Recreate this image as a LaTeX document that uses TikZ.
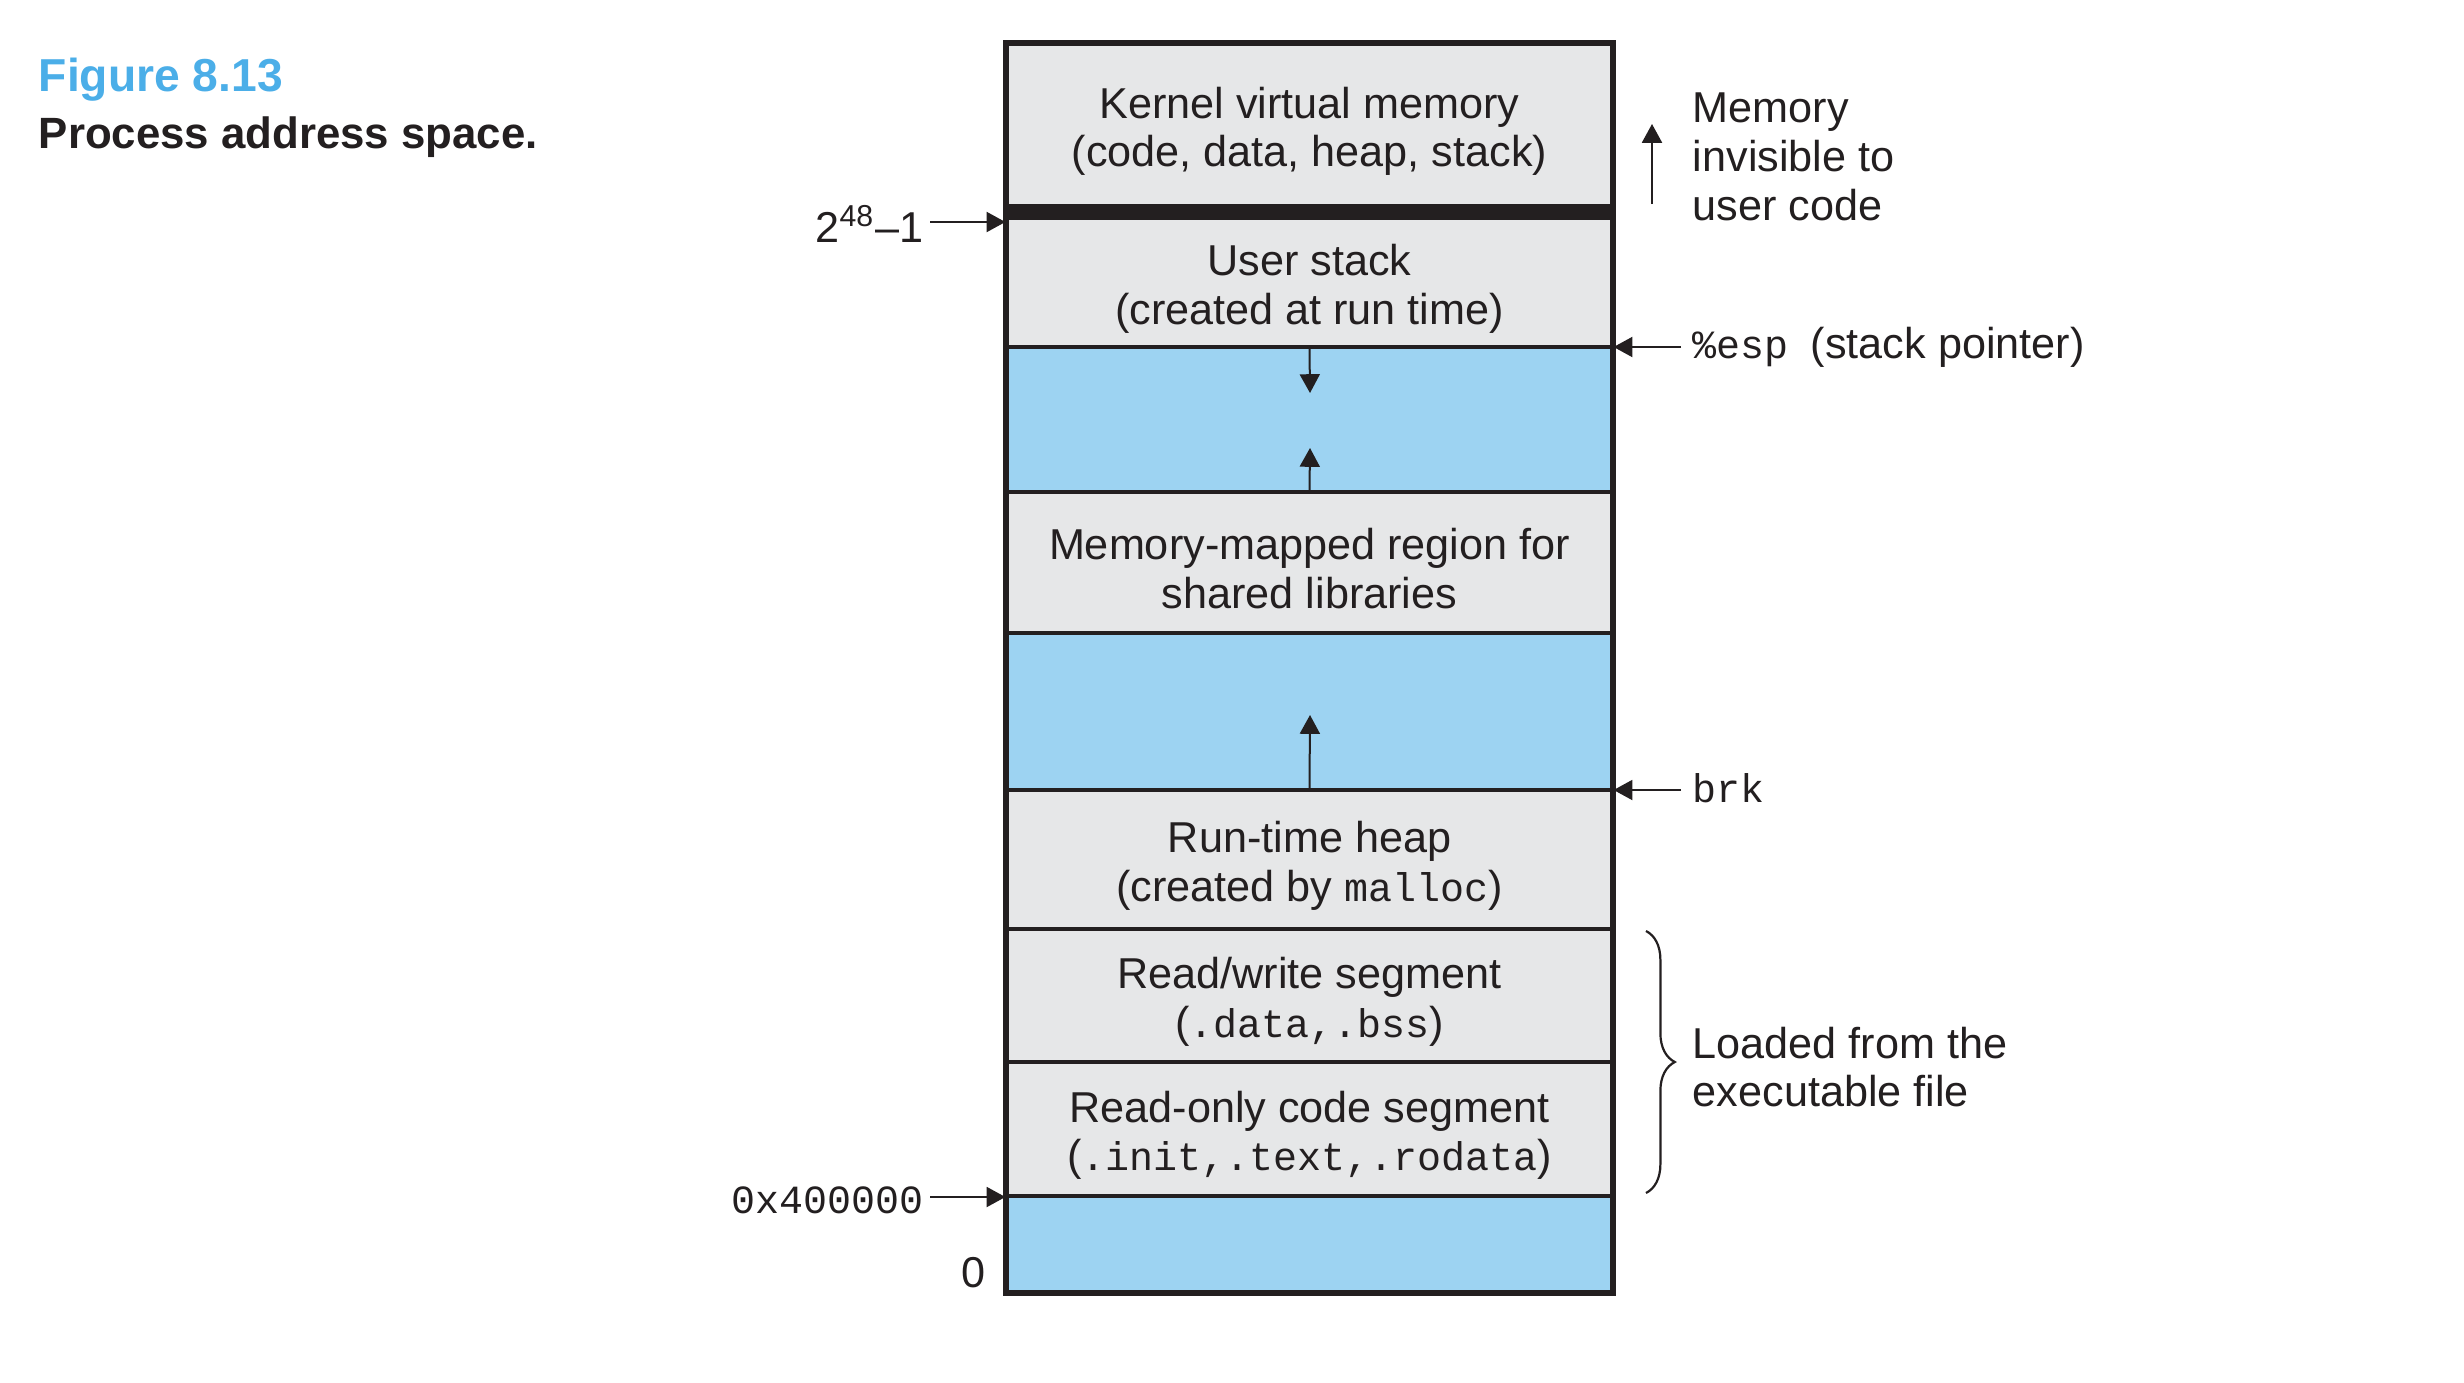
\documentclass[tikz,border=0pt]{standalone}
\usepackage{fontspec}
\setmainfont{Liberation Sans}
\newfontfamily\monofont{Liberation Mono}
\usetikzlibrary{arrows.meta,decorations.pathreplacing}
\definecolor{ink}{HTML}{231F20}
\definecolor{greyfill}{HTML}{E6E7E8}
\definecolor{bluefill}{HTML}{9DD3F2}
\definecolor{figblue}{HTML}{4BAEE8}
\newcommand{\mytt}[1]{{\monofont\fontsize{10pt}{12pt}\selectfont #1}}
\begin{document}
\begin{tikzpicture}[x=0.25pt,y=-0.25pt,
  txt/.style={font=\fontsize{10.8pt}{12.2pt}\selectfont, text=ink, inner sep=0pt},
  seg/.style={draw=ink, line width=0.8pt, minimum width=151.25pt, inner sep=0pt},
  gseg/.style={seg, fill=greyfill},
  bseg/.style={seg, fill=bluefill},
  segtxt/.style={txt, align=center},
  arr/.style={draw=ink, line width=0.5pt, -{Triangle[length=4.7pt,width=5pt]}},
  lbl/.style={txt, align=left, anchor=west},
  ttl/.style={inner sep=0pt, anchor=base west}
]
\useasboundingbox (0,0) rectangle (2464,1382);

% title
\node[ttl, text=figblue, font=\fontsize{11.55pt}{13pt}\selectfont\bfseries] (fig) at (38,91) {Figure 8.13};
\node[ttl, text=ink, font=\fontsize{10.95pt}{13pt}\selectfont\bfseries] (cap) at (38,148) {Process address space.};

% segments
\node[gseg, minimum height=40.5pt] (kern) at (1309.5,125) {};
\node[draw=ink, fill=ink, minimum width=151.25pt, minimum height=3pt, inner sep=0pt] (bar) at (1309.5,212) {};
\node[gseg, minimum height=32.25pt] (ustack) at (1309.5,282.5) {};
\node[bseg, minimum height=36.25pt] (gapa) at (1309.5,419.5) {};
\node[gseg, minimum height=35.25pt] (mmap) at (1309.5,562.5) {};
\node[bseg, minimum height=39.25pt] (gapb) at (1309.5,711.5) {};
\node[gseg, minimum height=34.75pt] (heap) at (1309.5,859.5) {};
\node[gseg, minimum height=33.25pt] (rw) at (1309.5,995.5) {};
\node[gseg, minimum height=33.5pt] (ro) at (1309.5,1129) {};
\node[bseg, minimum height=24pt] (low) at (1309.5,1244) {};

% segment texts
\node[segtxt] (kernT) at ([yshift=-1.6pt]kern.center) {Kernel virtual memory\\(code, data, heap, stack)};
\node[segtxt] (ustackT) at ([yshift=-1.6pt]ustack.center) {User stack\\(created at run time)};
\node[segtxt] (mmapT) at ([yshift=-1.6pt]mmap.center) {Memory-mapped region for\\shared libraries};
\node[segtxt] (heapT) at ([yshift=-1.6pt]heap.center) {Run-time heap\\(created by \mytt{malloc})};
\node[segtxt] (rwT) at ([yshift=-1.6pt]rw.center) {Read/write segment\\(\mytt{.data,.bss})};
\node[segtxt] (roT) at ([yshift=-1.6pt]ro.center) {Read-only code segment\\(\mytt{.init,.text,.rodata})};

% outer border
\draw[ink, line width=1.2pt] (kern.north west) rectangle (low.south east);

% inner growth arrows
\coordinate (downend) at (1310,393);
\coordinate (upend) at (1310,448);
\coordinate (heapup) at (1310,715);
\draw[arr] (ustack.south) -- (downend);
\draw[arr] (mmap.north) -- (upend);
\draw[arr] (heap.north) -- (heapup);

% left labels
\node[txt, anchor=east] (top48) at (924,224) {2\textsuperscript{48}--1};
\node[txt, anchor=east] (hex) at (924,1200) {\mytt{0x400000}};
\node[txt, anchor=center] (zero) at (974,1273) {0};
\draw[arr] (top48.east) ++(6,-2) coordinate (t48s) -- (t48s -| ustack.west);
\draw[arr] (hex.east) ++(6,-3) coordinate (hexs) -- (hexs -| low.west);

% right labels
\node[lbl] (invis) at (1692,157) {Memory\\invisible to\\user code};
\coordinate (invbot) at (1652,204);
\coordinate (invtop) at (1652,124);
\draw[arr] (invbot) -- (invtop);

\node[lbl] (esp) at (1692,347) {\mytt{\%esp}\hspace{5.5pt}(stack pointer)};
\draw[arr] (esp.west) ++(-11,0) coordinate (esps) -- (esps -| ustack.south east);

\node[lbl] (brk) at (1692,788) {\mytt{brk}};
\coordinate (brkline) at (1681,790);
\draw[arr] (brkline) -- (brkline -| heap.north east);

\node[lbl] (loaded) at (1692,1067) {Loaded from the\\executable file};
\coordinate (brtop) at (1646,931);
\coordinate (brbot) at (1646,1193);
\draw[ink, line width=0.55pt, decorate, decoration={brace, amplitude=7.2pt}] (brtop) -- (brbot);
\end{tikzpicture}
\end{document}
